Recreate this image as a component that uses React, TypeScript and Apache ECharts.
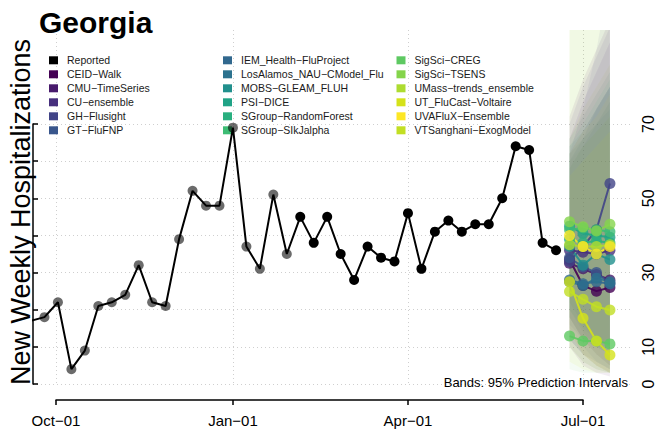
import React, { useEffect, useRef } from "react";
import * as echarts from "echarts";

// ---------- data ----------
const reportedDates = [
  "2023-09-18", "2023-09-25", "2023-10-02", "2023-10-09", "2023-10-16", "2023-10-23", "2023-10-30",
  "2023-11-06", "2023-11-13", "2023-11-20", "2023-11-27", "2023-12-04", "2023-12-11", "2023-12-18",
  "2023-12-25", "2024-01-01", "2024-01-08", "2024-01-15", "2024-01-22", "2024-01-29", "2024-02-05",
  "2024-02-12", "2024-02-19", "2024-02-26", "2024-03-04", "2024-03-11", "2024-03-18", "2024-03-25",
  "2024-04-01", "2024-04-08", "2024-04-15", "2024-04-22", "2024-04-29", "2024-05-06", "2024-05-13",
  "2024-05-20", "2024-05-27", "2024-06-03", "2024-06-10", "2024-06-17",
];
const reportedValues = [
  17, 18, 22, 4, 9, 21, 22, 24, 32, 22, 21, 39, 52, 48, 48, 69, 37, 31, 51, 35, 45,
  38, 45, 35, 28, 37, 34, 33, 46, 31, 41, 44, 41, 43, 43, 50, 64, 63, 38, 36,
];
const greyPointCount = 20; // earlier points drawn in grey

const forecastDates = ["2024-06-24", "2024-07-01", "2024-07-08", "2024-07-15"];

const models = [
  "CEID−Walk", "CMU−TimeSeries", "CU−ensemble", "GH−Flusight", "GT−FluFNP",
  "IEM_Health−FluProject", "LosAlamos_NAU−CModel_Flu", "MOBS−GLEAM_FLUH", "PSI−DICE",
  "SGroup−RandomForest", "SGroup−SIkJalpha", "SigSci−CREG", "SigSci−TSENS",
  "UMass−trends_ensemble", "UT_FluCast−Voltaire", "UVAFluX−Ensemble", "VTSanghani−ExogModel",
];
const modelColors = [
  "#440154", "#481a6c", "#472f7d", "#414487", "#39568c",
  "#31688e", "#2c728e", "#21908d", "#20a386",
  "#29af7f", "#3dbc74", "#5ec962", "#84d44b",
  "#addc30", "#d5e21a", "#fde725", "#c2df23",
];
const medians = [
  [33.5, 26.5, 25, 26],
  [32.5, 31, 29.5, 28],
  [36, 35.5, 35, 36],
  [33, 37, 41.5, 54],
  [34, 31.5, 30, 27],
  [28, 27, 27.5, 27],
  [27.5, 26.5, 28.5, 27.5],
  [37, 32, 35, 33.5],
  [42.5, 40.5, 40, 39.5],
  [39, 38, 38.5, 38],
  [41.5, 42, 41.5, 41],
  [12.9, 11.6, 11.6, 10.8],
  [43.7, 42.3, 41.2, 43],
  [37.5, 37, 37, 37.5],
  [27.5, 17.7, 11.6, 7.8],
  [40, 37, 35, 37],
  [24.9, 22.8, 20.8, 19.9],
];
const lower95 = [
  [10, 5, 3, 2],
  [12, 8, 5, 3],
  [18, 12, 8, 5],
  [16, 12, 10, 10],
  [15, 10, 6, 4],
  [10, 6, 4, 3],
  [12, 8, 6, 4],
  [18, 12, 10, 8],
  [22, 16, 12, 10],
  [20, 15, 12, 10],
  [20, 14, 10, 8],
  [4, 3, 3, 3],
  [18, 12, 8, 5],
  [14, 8, 5, 3],
  [6, 4, 3, 3],
  [14, 8, 5, 3],
  [10, 6, 4, 3],
];
const upper95 = [
  [72, 82, 90, 98],
  [66, 76, 84, 92],
  [70, 80, 88, 96],
  [62, 74, 90, 110],
  [62, 68, 74, 80],
  [60, 66, 74, 80],
  [58, 64, 70, 76],
  [64, 68, 74, 80],
  [66, 72, 78, 84],
  [62, 66, 70, 74],
  [64, 70, 76, 82],
  [110, 110, 110, 110],
  [60, 64, 68, 72],
  [66, 74, 80, 86],
  [110, 110, 110, 110],
  [62, 68, 72, 78],
  [56, 60, 64, 68],
];

const xTickDates = ["2023-10-01", "2024-01-01", "2024-04-01", "2024-07-01"];
const xTickLabels = ["Oct−01", "Jan−01", "Apr−01", "Jul−01"];
const yTicks = [0, 10, 20, 30, 40, 50, 60, 70];
const yTickLabels = [0, 10, 30, 50, 70];

// ---------- helpers ----------
const FONT = "'Liberation Sans', Arial, Helvetica, sans-serif";
const DAY = 86400000;
const ts = (s: string) => Date.parse(s + "T00:00:00Z");

function buildOption() {
  const xMin = ts(xTickDates[0]) - 11.96 * DAY;
  const xMax = ts(xTickDates[3]) + 24.44 * DAY;
  const xTickTs = xTickDates.map(ts);
  const grid = { color: "#cfcfcf", type: [1, 3] as any, width: 1 };
  const n = models.length;

  // drawing order for the translucent bands: middle colours first, ends of the palette on top
  const order: number[] = [];
  for (let a = 0, b = n - 1; a <= b; a++, b--) {
    order.push(a);
    if (b !== a) order.push(b);
  }
  order.reverse();
  const rank = (i: number) => order.indexOf(i);

  const series: any[] = [];

  models.forEach((m, i) => {
    series.push({
      type: "custom",
      name: "band " + m,
      xAxisIndex: 0,
      yAxisIndex: 0,
      clip: true,
      silent: true,
      z: 1,
      encode: { x: 0, y: [1, 2] },
      data: forecastDates.map((d, j) => [ts(d), lower95[i][j], upper95[i][j]]),
      renderItem: (params: any, api: any) => {
        if (params.dataIndexInside !== 0) return null;
        const len = params.dataInsideLength;
        const top: number[][] = [];
        const bot: number[][] = [];
        for (let k = 0; k < len; k++) {
          const x = api.value(0, k);
          top.push(api.coord([x, api.value(2, k)]));
          bot.push(api.coord([x, api.value(1, k)]));
        }
        return {
          type: "polygon",
          z2: rank(i),
          shape: { points: top.concat(bot.reverse()) },
          style: { fill: modelColors[i], opacity: 0.07 },
        };
      },
    });
  });

  // reported
  series.push({
    type: "line",
    name: "Reported",
    xAxisIndex: 0,
    yAxisIndex: 0,
    z: 5,
    symbol: "circle",
    symbolSize: 10,
    showSymbol: true,
    lineStyle: { color: "#000", width: 2 },
    itemStyle: { color: "#000", borderWidth: 0 },
    data: reportedDates.map((d, i) => ({
      value: [ts(d), reportedValues[i]],
      itemStyle: i < greyPointCount ? { color: "rgba(0,0,0,0.58)" } : undefined,
    })),
  });

  // model medians
  models.forEach((m, i) => {
    series.push({
      type: "line",
      name: m,
      xAxisIndex: 0,
      yAxisIndex: 0,
      z: 4,
      symbol: "circle",
      symbolSize: 11,
      showSymbol: true,
      lineStyle: { color: modelColors[i], width: 2, opacity: 0.9 },
      itemStyle: { color: modelColors[i], opacity: 0.8, borderWidth: 0 },
      data: forecastDates.map((d, j) => [ts(d), medians[i][j]]),
    });
  });

  const legendNames = ["Reported", ...models];
  const legendCommon = {
    orient: "vertical",
    icon: "rect",
    itemWidth: 9,
    itemHeight: 8,
    itemGap: 0,
    top: 48.3,
    selectedMode: false,
    itemStyle: { opacity: 1, borderWidth: 0 },
    textStyle: { fontSize: 10.5, color: "#1a1a1a", fontFamily: FONT, lineHeight: 14, padding: [0, 0, 0, 4] },
  };

  return {
    animation: false,
    backgroundColor: "#fff",
    title: {
      text: "Georgia",
      left: 34,
      top: 2,
      textStyle: { fontSize: 30, fontWeight: "bold", color: "#000", fontFamily: FONT },
    },
    legend: [
      { ...legendCommon, left: 44, data: legendNames.slice(0, 6) },
      { ...legendCommon, left: 218, data: legendNames.slice(6, 12) },
      { ...legendCommon, left: 391.5, data: legendNames.slice(12, 18) },
    ],
    grid: [
      { left: 33, right: 26, top: 30, height: 354 },
      { left: 33, right: 26, top: 124, height: 260 },
      { left: 56, right: 73, top: 390, height: 10 },
    ],
    xAxis: [
      {
        gridIndex: 0, type: "value", min: xMin, max: xMax,
        axisLine: { show: false },
        axisTick: { show: false, customValues: xTickTs },
        axisLabel: { show: false },
        splitLine: { show: true, customValues: xTickTs, lineStyle: grid },
      },
      { gridIndex: 1, type: "value", min: 0, max: 1, show: false },
      {
        gridIndex: 2, type: "value", min: xTickTs[0], max: xTickTs[3], position: "bottom",
        axisLine: { show: true, lineStyle: { color: "#000", width: 1.5 } },
        axisTick: { show: true, length: 5, customValues: xTickTs, lineStyle: { color: "#000", width: 1.5 } },
        axisLabel: {
          customValues: xTickTs,
          formatter: (v: number) => xTickLabels[xTickTs.indexOf(v)] ?? "",
          fontSize: 15, color: "#000", fontFamily: FONT, margin: 13,
        },
        splitLine: { show: false },
      },
    ],
    yAxis: [
      {
        gridIndex: 0, type: "value", min: 0, max: 95.3,
        axisLine: { show: false },
        axisTick: { show: false, customValues: yTicks },
        axisLabel: { show: false },
        splitLine: { show: true, customValues: yTicks, lineStyle: grid },
      },
      {
        gridIndex: 1, type: "value", min: 0, max: 70, position: "right", offset: 6,
        axisLine: { show: true, lineStyle: { color: "#000", width: 1.5 } },
        axisTick: { show: true, length: 5, customValues: yTicks, lineStyle: { color: "#000", width: 1.5 } },
        axisLabel: {
          customValues: yTickLabels, rotate: 90, fontSize: 16, color: "#000", fontFamily: FONT, margin: 9,
        },
        splitLine: { show: false },
      },
      { gridIndex: 2, type: "value", min: 0, max: 1, show: false },
    ],
    graphic: [
      {
        type: "text",
        x: 34,
        y: 212,
        rotation: Math.PI / 2,
        style: {
          text: "New Weekly Hospitalizations",
          fontSize: 27,
          fontFamily: FONT,
          fill: "#000",
          textAlign: "center",
          textVerticalAlign: "bottom",
        },
        z: 10,
      },
      {
        type: "text",
        x: 628,
        y: 389,
        style: {
          text: "Bands: 95% Prediction Intervals",
          fontSize: 13,
          fontFamily: FONT,
          fill: "#000",
          textAlign: "right",
          textVerticalAlign: "bottom",
        },
        z: 10,
      },
    ],
    series,
  };
}

export default function App() {
  const ref = useRef<HTMLDivElement>(null);
  useEffect(() => {
    if (!ref.current) return;
    const chart = echarts.init(ref.current, undefined, { renderer: "svg" });
    chart.setOption(buildOption() as any);
    return () => chart.dispose();
  }, []);
  return <div ref={ref} style={{ width: 656, height: 433, position: "absolute", left: 0, top: 0 }} />;
}
